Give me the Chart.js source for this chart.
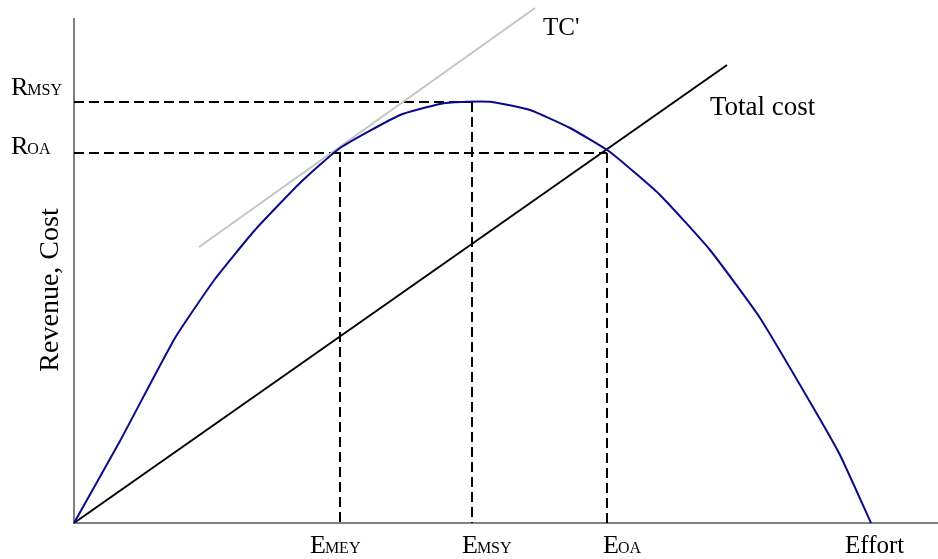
<!DOCTYPE html>
<html>
<head>
<meta charset="utf-8">
<script src="https://cdn.jsdelivr.net/npm/chart.js@4.4.1/dist/chart.umd.min.js"></script>
<style>
  html, body { margin: 0; padding: 0; background: #fff; }
  #wrap { width: 938px; height: 559px; }
</style>
</head>
<body>
<div id="wrap"><canvas id="c" width="938" height="559"></canvas></div>
<script>
(function () {
    'use strict';

    // effort / revenue (arbitrary units)
    var revEffort = [0, 46, 101, 141, 181, 226, 266, 326, 366, 388, 418, 456, 496, 536, 586, 636, 686, 736, 766, 797];
    var revenue   = [0, 82, 185, 244, 293, 340, 375, 408, 419, 421, 421, 413, 395, 371, 328, 273, 205, 121, 68, 0];

    var costEffort = [0, 653];
    var totalCost  = [0, 458];

    var tangentEffort = [125, 461];
    var tangentCost   = [276, 515];

    var eMEY = 266, eMSY = 398, eOA = 533;
    var rMSY = 421, rOA = 370, rMEY = 371;

    var xMax = 864, yMax = 505;

    function pts(xs, ys) {
        var out = [];
        for (var i = 0; i < xs.length; i++) {
            out.push({ x: xs[i], y: ys[i] });
        }
        return out;
    }

    var SERIF = '"Liberation Serif", "Times New Roman", serif';
    var dash = [10, 5];

    function dashed(data) {
        return {
            data: data,
            borderColor: '#000',
            borderWidth: 2,
            borderDash: dash,
            pointRadius: 0,
            fill: false,
            clip: false
        };
    }

    // label with a small-caps subscript, e.g. R + MSY
    function subLabel(ctx, big, small, x, y) {
        ctx.font = '26px ' + SERIF;
        ctx.fillText(big, x, y);
        var w = ctx.measureText(big).width;
        ctx.font = '16px ' + SERIF;
        ctx.fillText(small, x + w - 1, y);
    }

    var labels = {
        id: 'labels',
        afterDraw: function (chart) {
            var ctx = chart.ctx;
            var xs = chart.scales.x, ys = chart.scales.y;
            ctx.save();
            ctx.fillStyle = '#000';
            ctx.textBaseline = 'alphabetic';
            ctx.textAlign = 'left';

            subLabel(ctx, 'R', 'MSY', 11, ys.getPixelForValue(rMSY) - 7);
            subLabel(ctx, 'R', 'OA', 11, ys.getPixelForValue(rOA) + 1);

            var base = ys.getPixelForValue(0) + 30;
            subLabel(ctx, 'E', 'MEY', xs.getPixelForValue(eMEY) - 30, base);
            subLabel(ctx, 'E', 'MSY', xs.getPixelForValue(eMSY) - 10, base);
            subLabel(ctx, 'E', 'OA', xs.getPixelForValue(eOA) - 4, base);

            ctx.font = '25px ' + SERIF;
            ctx.fillText('Effort', 845, base);
            ctx.fillText("TC'", 543, 35);
            ctx.font = '27px ' + SERIF;
            ctx.fillText('Total cost', 710, 115);

            ctx.font = '28px ' + SERIF;
            ctx.translate(58, 290);
            ctx.rotate(-Math.PI / 2);
            ctx.textAlign = 'center';
            ctx.fillText('Revenue, Cost', 0, 0);
            ctx.restore();
        }
    };

    new Chart(document.getElementById('c'), {
        type: 'line',
        data: {
            datasets: [
                {
                    label: 'Revenue',
                    data: pts(revEffort, revenue),
                    borderColor: '#0a0a8c',
                    borderWidth: 2,
                    pointRadius: 0,
                    tension: 0.15,
                    fill: false,
                    clip: false
                },
                {
                    label: 'Total cost',
                    data: pts(costEffort, totalCost),
                    borderColor: '#000',
                    borderWidth: 2,
                    pointRadius: 0,
                    fill: false,
                    clip: false
                },
                {
                    label: "TC'",
                    data: pts(tangentEffort, tangentCost),
                    borderColor: '#c4c4c4',
                    borderWidth: 2,
                    pointRadius: 0,
                    fill: false,
                    clip: false
                },
                dashed([{ x: 0, y: rMSY }, { x: eMSY, y: rMSY }]),
                dashed([{ x: eMSY, y: rMSY }, { x: eMSY, y: 0 }]),
                dashed([{ x: 0, y: rOA }, { x: eOA, y: rOA }]),
                dashed([{ x: eOA, y: rOA }, { x: eOA, y: 0 }]),
                dashed([{ x: eMEY, y: rMEY }, { x: eMEY, y: 0 }]),
                {
                    label: 'axes',
                    data: [{ x: 0, y: yMax }, { x: 0, y: 0 }, { x: xMax, y: 0 }],
                    borderColor: '#808080',
                    borderWidth: 2,
                    pointRadius: 0,
                    fill: false,
                    clip: false
                }
            ]
        },
        options: {
            responsive: false,
            animation: false,
            layout: { padding: { left: 74, right: 0, top: 18, bottom: 36 } },
            plugins: {
                legend: { display: false },
                tooltip: { enabled: false }
            },
            scales: {
                x: { type: 'linear', min: 0, max: xMax, display: false },
                y: { type: 'linear', min: 0, max: yMax, display: false }
            }
        },
        plugins: [labels]
    });
})();
</script>
</body>
</html>
